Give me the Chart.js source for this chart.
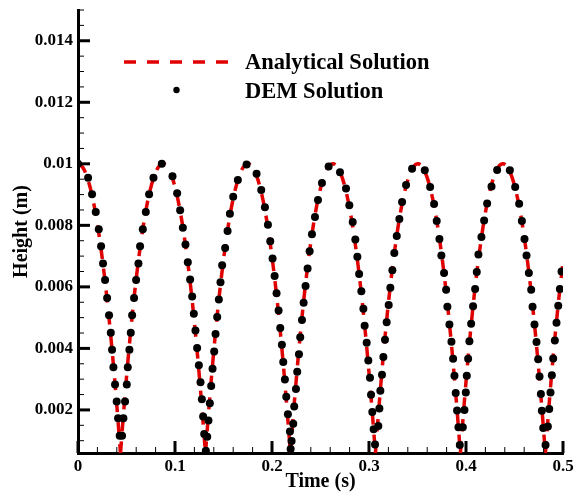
<!DOCTYPE html>
<html><head><meta charset="utf-8">
<script src="https://cdn.jsdelivr.net/npm/chart.js@4.4.1/dist/chart.umd.min.js"></script>
<style>html,body{margin:0;padding:0;background:#fff;}#wrap{width:574px;height:494px;}</style>
</head><body><div id="wrap"><canvas id="c" width="574" height="494"></canvas></div>
<script>
// ---- DEM solution (markers) ----
const demTime = [
0.0000,0.0104,0.0145,0.0183,0.0214,0.0238,0.0258,0.0279,0.0300,0.0320,0.0338,0.0351,0.0365,0.0382,0.0399,0.0413,0.0430,
0.0454,0.0468,0.0485,0.0503,0.0513,0.0530,0.0544,0.0558,0.0578,0.0599,0.0623,0.0640,0.0668,0.0699,0.0733,0.0778,0.0864,
0.0974,0.1022,0.1053,0.1081,0.1108,0.1132,0.1156,0.1177,0.1194,0.1211,0.1228,0.1246,0.1263,0.1277,0.1290,0.1301,0.1318,
0.1332,0.1345,0.1359,0.1373,0.1387,0.1404,0.1418,0.1435,0.1452,0.1469,0.1486,0.1517,0.1542,0.1566,0.1600,0.1648,0.1738,
0.1841,0.1889,0.1927,0.1958,0.1982,0.2006,0.2027,0.2047,0.2068,0.2085,0.2102,0.2116,0.2133,0.2147,0.2164,0.2185,0.2192,
0.2202,0.2219,0.2229,0.2247,0.2260,0.2278,0.2291,0.2309,0.2326,0.2346,0.2367,0.2388,0.2412,0.2443,0.2474,0.2515,0.2584,
0.2701,0.2763,0.2797,0.2832,0.2859,0.2880,0.2898,0.2921,0.2942,0.2955,0.2976,0.2993,0.3010,0.3021,0.3034,0.3048,0.3062,
0.3096,0.3107,0.3117,0.3134,0.3148,0.3165,0.3182,0.3203,0.3220,0.3241,0.3261,0.3286,0.3313,0.3341,0.3382,0.3444,
0.3575,0.3630,0.3671,0.3698,0.3726,0.3746,0.3774,0.3795,0.3808,0.3829,0.3850,0.3867,0.3881,0.3894,0.3908,0.3922,0.3936,
0.3967,0.3984,0.3998,0.4008,0.4022,0.4035,0.4053,0.4073,0.4094,0.4111,0.4128,0.4159,0.4187,0.4218,0.4263,0.4321,
0.4452,0.4507,0.4548,0.4576,0.4603,0.4624,0.4648,0.4672,0.4686,0.4706,0.4727,0.4744,0.4758,0.4772,0.4782,0.4796,0.4820,
0.4844,0.4858,0.4871,0.4885,0.4899,0.4916,0.4933,0.4951,0.4968,0.4985
];
const demHeight = [
0.0100,0.00955,0.00901,0.00843,0.00787,0.00732,0.00676,0.00622,0.00564,0.00508,0.00451,0.00396,0.00339,0.00283,0.00227,0.00173,0.00116,
0.00116,0.00173,0.00227,0.00283,0.00339,0.00396,0.00451,0.00508,0.00564,0.00622,0.00676,0.00732,0.00787,0.00843,0.00901,0.00955,0.0100,
0.00960,0.00904,0.00849,0.00792,0.00738,0.00680,0.00624,0.00569,0.00513,0.00458,0.00401,0.00345,0.00290,0.00235,0.00179,0.00122,0.00067,
0.00113,0.00166,0.00222,0.00278,0.00334,0.00390,0.00447,0.00502,0.00559,0.00615,0.00670,0.00726,0.00782,0.00838,0.00893,0.00947,0.00998,
0.00968,0.00915,0.00859,0.00802,0.00748,0.00692,0.00635,0.00579,0.00523,0.00466,0.00412,0.00356,0.00299,0.00243,0.00186,0.00130,0.00073,
0.00099,0.00155,0.00211,0.00268,0.00324,0.00381,0.00436,0.00492,0.00548,0.00603,0.00660,0.00716,0.00771,0.00827,0.00882,0.00938,0.00991,
0.00973,0.00920,0.00865,0.00811,0.00754,0.00698,0.00642,0.00586,0.00529,0.00474,0.00418,0.00361,0.00305,0.00249,0.00193,0.00137,0.00088,
0.00148,0.00205,0.00262,0.00314,0.00372,0.00428,0.00485,0.00541,0.00597,0.00654,0.00710,0.00765,0.00821,0.00876,0.00931,0.00984,
0.00979,0.00925,0.00869,0.00814,0.00756,0.00702,0.00645,0.00591,0.00535,0.00478,0.00422,0.00366,0.00311,0.00255,0.00198,0.00144,0.00086,
0.00144,0.00200,0.00257,0.00311,0.00366,0.00423,0.00480,0.00537,0.00593,0.00648,0.00705,0.00762,0.00816,0.00871,0.00926,0.00980,
0.00979,0.00925,0.00870,0.00814,0.00756,0.00702,0.00645,0.00591,0.00535,0.00478,0.00421,0.00365,0.00309,0.00252,0.00197,0.00141,0.00086,
0.00146,0.00203,0.00257,0.00313,0.00367,0.00426,0.00483,0.00539,0.00593,0.00650
];

// ---- Analytical solution (dashed line); null height = break at each bounce ----
const analyticalTime = [
0,0.005,0.01,0.015,0.02,0.025,0.03,0.035,0.04,0.0438,
0.0438,
0.0438,0.0476,0.0526,0.0576,0.0626,0.0676,0.0726,0.0776,0.0826,0.0876,0.0926,0.0976,0.1026,0.1076,0.1126,0.1176,0.1226,0.1276,0.1314,
0.1314,
0.1314,0.1352,0.1402,0.1452,0.1502,0.1552,0.1602,0.1652,0.1702,0.1752,0.1802,0.1852,0.1902,0.1952,0.2002,0.2052,0.2102,0.2152,0.2190,
0.2190,
0.2190,0.2228,0.2278,0.2328,0.2378,0.2428,0.2478,0.2528,0.2578,0.2628,0.2678,0.2728,0.2778,0.2828,0.2878,0.2928,0.2978,0.3028,0.3066,
0.3066,
0.3066,0.3104,0.3154,0.3204,0.3254,0.3304,0.3354,0.3404,0.3454,0.3504,0.3554,0.3604,0.3654,0.3704,0.3754,0.3804,0.3854,0.3904,0.3942,
0.3942,
0.3942,0.3980,0.4030,0.4080,0.4130,0.4180,0.4230,0.4280,0.4330,0.4380,0.4430,0.4480,0.4530,0.4580,0.4630,0.4680,0.4730,0.4780,0.4818,
0.4818,
0.4818,0.4856,0.4906,0.4956,0.5000
];
const analyticalHeight = [
0.0100,0.00988,0.00951,0.00890,0.00804,0.00693,0.00559,0.00399,0.00215,0.00059,
null,
0.00059,0.00215,0.00399,0.00559,0.00693,0.00804,0.00890,0.00951,0.00988,0.0100,0.00988,0.00951,0.00890,0.00804,0.00693,0.00559,0.00399,0.00215,0.00059,
null,
0.00059,0.00215,0.00399,0.00559,0.00693,0.00804,0.00890,0.00951,0.00988,0.0100,0.00988,0.00951,0.00890,0.00804,0.00693,0.00559,0.00399,0.00215,0.00059,
null,
0.00059,0.00215,0.00399,0.00559,0.00693,0.00804,0.00890,0.00951,0.00988,0.0100,0.00988,0.00951,0.00890,0.00804,0.00693,0.00559,0.00399,0.00215,0.00059,
null,
0.00059,0.00215,0.00399,0.00559,0.00693,0.00804,0.00890,0.00951,0.00988,0.0100,0.00988,0.00951,0.00890,0.00804,0.00693,0.00559,0.00399,0.00215,0.00059,
null,
0.00059,0.00215,0.00399,0.00559,0.00693,0.00804,0.00890,0.00951,0.00988,0.0100,0.00988,0.00951,0.00890,0.00804,0.00693,0.00559,0.00399,0.00215,0.00059,
null,
0.00059,0.00215,0.00399,0.00559,0.00679
];

// ---- Axes ----
const xTickValues = [0, 0.1, 0.2, 0.3, 0.4, 0.5];
const xTickLabels = ['0', '0.1', '0.2', '0.3', '0.4', '0.5'];
const yTickValues = [0.002, 0.004, 0.006, 0.008, 0.01, 0.012, 0.014];
const yTickLabels = ['0.002', '0.004', '0.006', '0.008', '0.01', '0.012', '0.014'];
const xMinorStep = 0.02;
const yMinorStep = 0.0005;
const xRange = [0, 0.5];
const yRange = [0.0006, 0.015];
const seriesNames = ['Analytical Solution', 'DEM Solution'];
const axisTitles = ['Time (s)', 'Height (m)'];

const FONT = "'Liberation Serif','Times New Roman',serif";
const RED = '#e00000';

const demPoints = demTime.slice(0, Math.min(demTime.length, demHeight.length)).map((t, i) => ({x: t, y: demHeight[i]}));
const analyticalPoints = analyticalTime.map((t, i) => ({x: t, y: analyticalHeight[i]}));

const tickMarks = {
  id: 'tickMarks',
  afterDraw(chart) {
    const ctx = chart.ctx, xs = chart.scales.x, ys = chart.scales.y, a = chart.chartArea;
    ctx.save();
    ctx.strokeStyle = '#000';
    ctx.lineCap = 'butt';
    const isMajor = (arr, v) => arr.some(t => Math.abs(t - v) < 1e-9);
    const nx = Math.round((xs.max - xs.min) / xMinorStep);
    for (let i = 0; i <= nx; i++) {
      const v = xs.min + i * xMinorStep;
      const px = xs.getPixelForValue(v);
      const m = isMajor(xTickValues, v);
      ctx.lineWidth = m ? 3 : 1;
      ctx.beginPath(); ctx.moveTo(px, a.bottom); ctx.lineTo(px, a.bottom - (m ? 12 : 6)); ctx.stroke();
    }
    let k = Math.ceil(ys.min / yMinorStep - 1e-9);
    for (; k * yMinorStep <= ys.max + 1e-12; k++) {
      const v = k * yMinorStep;
      const py = ys.getPixelForValue(v);
      const m = isMajor(yTickValues, v);
      ctx.lineWidth = m ? 3 : 1;
      ctx.beginPath(); ctx.moveTo(a.left, py); ctx.lineTo(a.left + (m ? 12 : 6), py); ctx.stroke();
    }
    ctx.restore();
  }
};

const legendBox = {
  id: 'legendBox',
  afterDraw(chart) {
    const ctx = chart.ctx;
    ctx.save();
    ctx.strokeStyle = RED;
    ctx.lineWidth = 3.5;
    ctx.setLineDash([12, 11]);
    ctx.beginPath(); ctx.moveTo(124, 62); ctx.lineTo(228, 62); ctx.stroke();
    ctx.setLineDash([]);
    ctx.fillStyle = '#000';
    ctx.beginPath(); ctx.arc(176.5, 90, 3.2, 0, Math.PI * 2); ctx.fill();
    ctx.font = 'bold 22.5px ' + FONT;
    ctx.textAlign = 'left';
    ctx.textBaseline = 'alphabetic';
    ctx.fillText(seriesNames[0], 245, 69);
    ctx.fillText(seriesNames[1], 245, 98);
    ctx.restore();
  }
};

new Chart(document.getElementById('c'), {
  data: {
    datasets: [
      {
        type: 'scatter', label: seriesNames[1], data: demPoints,
        pointRadius: 4, pointBackgroundColor: '#000', pointBorderWidth: 0, showLine: false
      },
      {
        type: 'line', label: seriesNames[0], data: analyticalPoints,
        borderColor: RED, borderWidth: 3.5, borderDash: [12, 10], pointRadius: 0,
        cubicInterpolationMode: 'monotone', spanGaps: false, fill: false
      }
    ]
  },
  options: {
    responsive: false, animation: false, devicePixelRatio: 1,
    layout: { padding: { left: 0, right: 11, top: 10, bottom: 0 } },
    plugins: { legend: { display: false }, tooltip: { enabled: false } },
    scales: {
      x: {
        type: 'linear', min: xRange[0], max: xRange[1],
        afterBuildTicks(s) { s.ticks = xTickValues.map(v => ({value: v})); },
        afterFit(s) { s.height = 41; s.paddingLeft = 0; s.paddingRight = 0; },
        ticks: {
          autoSkip: false, maxRotation: 0, padding: 3, color: '#000',
          font: { family: FONT, size: 17, weight: 'bold' },
          callback: (v, i) => xTickLabels[i]
        },
        grid: { display: false, drawTicks: false },
        border: { display: true, color: '#000', width: 3 },
        title: { display: true, text: axisTitles[0], color: '#000', padding: { top: 0, bottom: 0 },
          font: { family: FONT, size: 20, weight: 'bold', lineHeight: 1.2 } }
      },
      y: {
        type: 'linear', min: yRange[0], max: yRange[1],
        afterBuildTicks(s) { s.ticks = yTickValues.map(v => ({value: v})); },
        afterFit(s) { s.width = 78; s.paddingTop = 0; s.paddingBottom = 0; },
        ticks: {
          autoSkip: false, padding: 5, color: '#000',
          font: { family: FONT, size: 17, weight: 'bold' },
          callback: (v, i) => yTickLabels[i]
        },
        grid: { display: false, drawTicks: false },
        border: { display: true, color: '#000', width: 3 },
        title: { display: true, text: axisTitles[1], color: '#000', padding: { top: 10, bottom: 0 },
          font: { family: FONT, size: 20, weight: 'bold', lineHeight: 1.2 } }
      }
    }
  },
  plugins: [tickMarks, legendBox]
});
</script>
</body></html>
